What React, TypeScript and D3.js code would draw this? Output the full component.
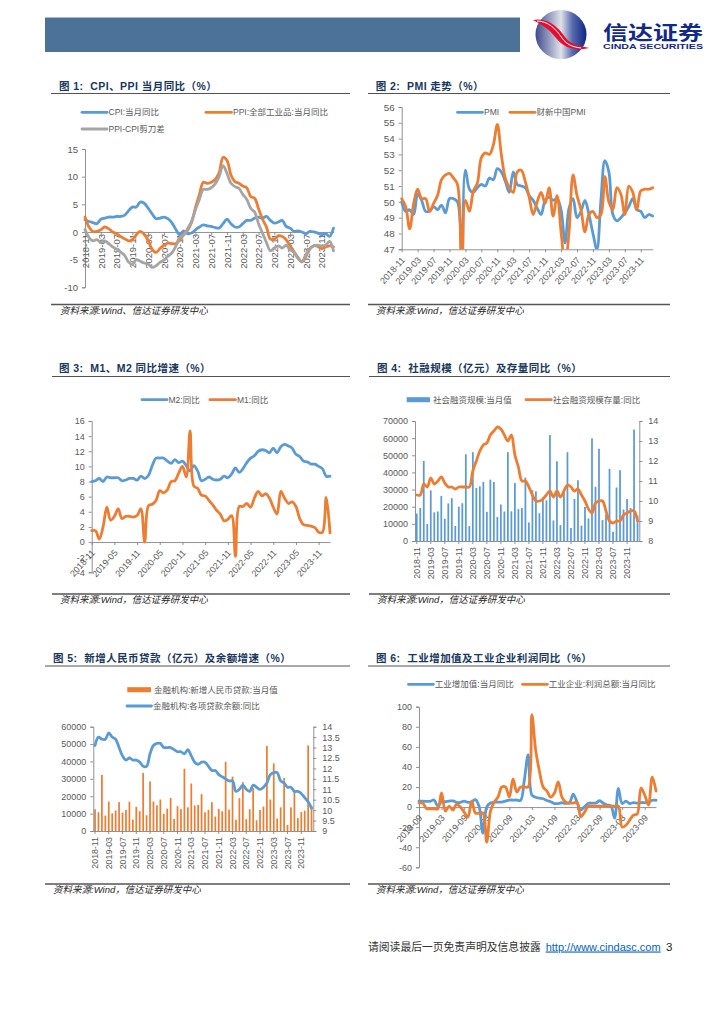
// App.tsx
import React, { useEffect, useRef } from 'react';
import * as d3 from 'd3';

const months = [
  '2018-11', '2018-12', '2019-01', '2019-02', '2019-03', '2019-04', '2019-05', '2019-06', '2019-07', '2019-08', '2019-09', '2019-10', '2019-11', '2019-12',
  '2020-01', '2020-02', '2020-03', '2020-04', '2020-05', '2020-06', '2020-07', '2020-08', '2020-09', '2020-10', '2020-11', '2020-12',
  '2021-01', '2021-02', '2021-03', '2021-04', '2021-05', '2021-06', '2021-07', '2021-08', '2021-09', '2021-10', '2021-11', '2021-12',
  '2022-01', '2022-02', '2022-03', '2022-04', '2022-05', '2022-06', '2022-07', '2022-08', '2022-09', '2022-10', '2022-11', '2022-12',
  '2023-01', '2023-02', '2023-03', '2023-04', '2023-05', '2023-06', '2023-07', '2023-08', '2023-09', '2023-10', '2023-11', '2023-12',
  '2024-01', '2024-02',
];
const monthsFig6 = [
  '2018-09', '2018-10', '2018-11', '2018-12', '2019-01', '2019-02', '2019-03', '2019-04', '2019-05', '2019-06', '2019-07', '2019-08', '2019-09', '2019-10', '2019-11', '2019-12',
  '2020-01', '2020-02', '2020-03', '2020-04', '2020-05', '2020-06', '2020-07', '2020-08', '2020-09', '2020-10', '2020-11', '2020-12',
  '2021-01', '2021-02', '2021-03', '2021-04', '2021-05', '2021-06', '2021-07', '2021-08', '2021-09', '2021-10', '2021-11', '2021-12',
  '2022-01', '2022-02', '2022-03', '2022-04', '2022-05', '2022-06', '2022-07', '2022-08', '2022-09', '2022-10', '2022-11', '2022-12',
  '2023-01', '2023-02', '2023-03', '2023-04', '2023-05', '2023-06', '2023-07', '2023-08', '2023-09', '2023-10', '2023-11', '2023-12',
];

const ticks4 = ['2018-11', '2019-03', '2019-07', '2019-11', '2020-03', '2020-07', '2020-11', '2021-03', '2021-07', '2021-11', '2022-03', '2022-07', '2022-11', '2023-03', '2023-07', '2023-11'];
const ticks6 = ['2018-11', '2019-05', '2019-11', '2020-05', '2020-11', '2021-05', '2021-11', '2022-05', '2022-11', '2023-05', '2023-11'];
const ticksFig6 = ['2018-09', '2019-03', '2019-09', '2020-03', '2020-09', '2021-03', '2021-09', '2022-03', '2022-09', '2023-03', '2023-09'];

const cpi = [2.2, 1.9, 1.7, 1.5, 2.3, 2.5, 2.7, 2.7, 2.8, 2.8, 3.0, 3.8, 4.5, 4.5, 5.4, 5.2, 4.3, 3.3, 2.4, 2.5, 2.7, 2.4, 1.7, 0.5, -0.5, 0.2, -0.3, -0.2, 0.4, 0.9, 1.3, 1.1, 1.0, 0.8, 0.7, 1.5, 2.3, 1.5, 0.9, 0.9, 1.5, 2.1, 2.1, 2.5, 2.7, 2.5, 2.8, 2.1, 1.6, 1.8, 2.1, 1.0, 0.7, 0.1, 0.2, 0, -0.3, 0.1, 0, -0.2, -0.5, -0.3, -0.8, 0.7];
const ppi = [2.7, 0.9, 0.1, 0.1, 0.4, 0.9, 0.6, 0, -0.3, -0.8, -1.2, -1.6, -1.4, -0.5, 0.1, -0.4, -1.5, -3.1, -3.7, -3.0, -2.4, -2.0, -2.1, -2.1, -1.5, -0.4, 0.3, 1.7, 4.4, 6.8, 9.0, 8.8, 9.0, 9.5, 10.7, 13.5, 12.9, 10.3, 9.1, 8.8, 8.3, 8.0, 6.4, 6.1, 4.2, 2.3, 0.9, -1.3, -1.3, -0.7, -0.8, -1.4, -2.5, -3.6, -4.6, -5.4, -4.4, -3.0, -2.5, -2.6, -3.0, -2.7, -2.5, -2.7];
const scissors = [0.5, -1.0, -1.6, -1.4, -1.9, -1.6, -2.1, -2.7, -3.1, -3.6, -4.2, -5.4, -5.9, -5.0, -5.3, -5.6, -5.8, -6.4, -6.1, -5.5, -5.1, -4.4, -3.8, -2.6, -1.0, -0.6, 0.6, 1.9, 4.0, 5.9, 7.7, 7.7, 8.0, 8.7, 10.0, 12.0, 10.6, 8.8, 8.2, 7.9, 6.8, 5.9, 4.3, 3.6, 1.5, -0.2, -1.9, -3.4, -2.9, -2.5, -2.9, -2.4, -3.2, -3.7, -4.8, -5.4, -4.1, -3.1, -2.5, -2.4, -2.5, -2.4, -1.7, -3.4];

const pmi = [50.0, 49.4, 49.5, 49.2, 50.5, 50.1, 49.4, 49.4, 49.7, 49.5, 49.8, 49.3, 50.2, 50.2, 50.0, 35.7, 52.0, 50.8, 50.6, 50.9, 51.1, 51.0, 51.5, 51.4, 52.1, 51.9, 51.3, 50.6, 51.9, 51.1, 51.0, 50.9, 50.4, 50.1, 49.6, 49.2, 50.1, 50.3, 50.1, 50.2, 49.5, 47.4, 49.6, 50.2, 49.0, 49.4, 50.1, 49.2, 48.0, 47.0, 50.1, 52.6, 51.9, 49.2, 48.8, 49.0, 49.3, 49.7, 50.2, 49.5, 49.4, 49.0, 49.2, 49.1];
const caixinPmi = [50.2, 49.7, 48.3, 49.9, 50.8, 50.2, 50.2, 49.4, 49.9, 50.4, 51.4, 51.7, 51.8, 51.5, 51.1, 40.3, 50.1, 49.4, 50.7, 51.2, 52.8, 53.1, 53.0, 53.6, 54.9, 53.0, 51.5, 50.9, 50.6, 51.9, 52.0, 51.3, 50.3, 49.2, 50.0, 50.6, 49.9, 50.9, 49.1, 50.4, 48.1, 46.0, 48.1, 51.7, 50.4, 49.5, 48.1, 49.2, 49.4, 49.0, 49.2, 51.6, 50.0, 49.5, 50.9, 50.5, 49.2, 51.0, 50.6, 49.5, 50.7, 50.8, 50.8, 50.9];

const m2 = [8.0, 8.1, 8.4, 8.0, 8.6, 8.5, 8.5, 8.5, 8.1, 8.2, 8.4, 8.4, 8.2, 8.7, 8.4, 8.8, 10.1, 11.1, 11.1, 11.1, 10.7, 10.4, 10.9, 10.5, 10.7, 10.1, 9.4, 10.1, 9.4, 8.1, 8.3, 8.6, 8.3, 8.2, 8.3, 8.7, 8.5, 9.0, 9.8, 9.2, 9.7, 10.5, 11.1, 11.4, 12.0, 12.2, 12.1, 11.8, 12.4, 11.8, 12.6, 12.9, 12.7, 12.4, 11.6, 11.3, 10.7, 10.6, 10.3, 10.3, 10.0, 9.7, 8.7, 8.7];
const m1 = [1.5, 1.5, 0.4, 2.0, 4.6, 2.9, 3.4, 4.4, 3.1, 3.4, 3.4, 3.3, 3.5, 4.4, 0.0, 4.8, 5.0, 5.5, 6.8, 6.5, 6.9, 8.0, 8.1, 9.1, 10.0, 8.6, 14.7, 7.4, 7.1, 6.2, 6.1, 5.5, 4.9, 4.2, 3.7, 2.8, 3.0, 3.5, -1.9, 4.7, 4.7, 5.1, 4.6, 5.8, 6.7, 6.1, 6.4, 5.8, 4.6, 3.7, 6.7, 5.8, 5.1, 5.3, 4.7, 3.1, 2.3, 2.2, 2.1, 1.9, 1.3, 1.3, 5.9, 1.2];

const tsfFlow = [16000, 19300, 46700, 9900, 29500, 16700, 17200, 26300, 13000, 21900, 25000, 8800, 20000, 22000, 50600, 8700, 51800, 30900, 31900, 34500, 17000, 35800, 34500, 14000, 21300, 17200, 51800, 17300, 33800, 18600, 19200, 37000, 10800, 29600, 29000, 16200, 25700, 23700, 61800, 12000, 46500, 9300, 28400, 51800, 7600, 24500, 35400, 9000, 19900, 13100, 59900, 31600, 53800, 12200, 15600, 42100, 5400, 31200, 41300, 18400, 24500, 19300, 65000, 14900];
const tsfStock = [10.3, 10.3, 10.85, 10.7, 11.15, 10.85, 11.0, 11.2, 10.9, 10.7, 10.7, 10.6, 10.7, 10.7, 10.7, 10.7, 11.5, 12.0, 12.5, 12.8, 12.9, 13.3, 13.5, 13.7, 13.6, 13.3, 13.0, 13.3, 12.3, 11.7, 11.0, 11.0, 10.7, 10.3, 10.0, 10.0, 10.1, 10.3, 10.5, 10.2, 10.5, 10.2, 10.5, 10.8, 10.7, 10.5, 10.6, 10.3, 10.0, 9.6, 9.4, 9.9, 10.0, 10.0, 9.5, 9.0, 8.9, 9.0, 9.0, 9.3, 9.4, 9.5, 9.5, 9.0];

const newLoans = [12500, 10800, 32300, 8900, 16900, 10200, 11800, 16600, 10600, 12100, 16900, 6600, 13900, 11400, 33400, 9057, 28500, 17000, 14800, 18100, 9900, 12800, 19000, 6900, 14300, 12600, 35800, 13600, 27300, 14700, 15000, 21200, 10800, 12200, 16600, 8300, 12700, 11300, 39800, 12300, 31300, 6500, 18900, 28100, 6800, 12500, 24700, 6200, 12100, 14000, 49000, 18100, 38900, 7200, 13600, 30500, 3500, 13600, 23100, 7400, 10900, 11700, 49200, 14500];
const loanGrowth = [13.1, 13.5, 13.4, 13.4, 13.7, 13.5, 13.4, 13.0, 12.6, 12.4, 12.5, 12.4, 12.4, 12.3, 12.1, 12.1, 12.7, 13.1, 13.2, 13.2, 13.0, 13.0, 13.0, 12.9, 12.8, 12.8, 12.7, 12.9, 12.6, 12.3, 12.2, 12.3, 12.3, 12.1, 11.9, 11.9, 11.7, 11.6, 11.5, 11.4, 11.4, 10.9, 11.0, 11.2, 11.0, 10.9, 11.2, 11.1, 11.0, 11.1, 11.3, 11.7, 11.8, 11.8, 11.4, 11.3, 11.1, 11.1, 10.9, 10.9, 10.8, 10.6, 10.4, 10.1];

const industryAdded = [5.8, 5.9, 5.6, 5.8, 7, 1, 5.3, 5.3, 6, 6.2, 4.7, 4.7, 6, 4.7, 5.3, 7.5, 0.3, -26, 0, 4, 5, 5, 5, 6, 7, 7, 7, 6.6, 27, 52, 12, 9.8, 8.8, 8.3, 6.5, 5.3, 3.5, 3.5, 4.3, 3.8, 4.3, 13, 5, -3, 0.3, 3.8, 4, 4, 6.3, 3.8, 2, 1.3, -11, 18.5, 3.5, 6, 3.5, 4.5, 4, 4.5, 4.5, 4.5, 6.8, 6.8];
const industryProfit = [4, 4, -1.5, -1.8, -1.8, -1.8, 14, -4, 1, -3, 3, 0, -5, -10, 6, -6, -6, -6, -35, -4, 5, 10, 20, 20, 10, 28, 15, 20, 20, 20, 92, 57, 36, 20, 16, 10, 14, 25, 10, 5, 4, 4, 4.5, -9.5, -5, 1, 1, 1, 1, 1, 1, 1, 1, 1, -20, -18, -13, -8, -7, 19, 12, 2, 30, 16];

const ticksFig1 = [-10, -5, 0, 5, 10, 15];
const ticksFig2 = [47, 48, 49, 50, 51, 52, 53, 54, 55, 56];
const ticksFig3 = [-4, -2, 0, 2, 4, 6, 8, 10, 12, 14, 16];
const ticksFig4 = [0, 10000, 20000, 30000, 40000, 50000, 60000, 70000];
const ticksFig4Right = [8, 9, 10, 11, 12, 13, 14];
const ticksFig5 = [0, 10000, 20000, 30000, 40000, 50000, 60000];
const ticksFig5Right = [9, 9.5, 10, 10.5, 11, 11.5, 12, 12.5, 13, 13.5, 14];
const ticksFig6Y = [-60, -40, -20, 0, 20, 40, 60, 80, 100];

const BLUE = '#5b9bd5';
const ORANGE = '#ed7d31';
const GREY = '#a5a5a5';
const AXIS = '#868686';
const LABEL = '#595959';
const FONT = '"Liberation Sans","Noto Sans CJK SC",sans-serif';
const SOURCE = '资料来源:Wind，信达证券研发中心';

type Sel = d3.Selection<any, unknown, null, undefined>;

const styleAxis = (a: Sel, size: number) => {
  a.attr('font-family', FONT).attr('font-size', size);
  a.selectAll('path,line').attr('stroke', AXIS).attr('stroke-width', 0.9);
  a.selectAll('text').attr('fill', LABEL);
};

const yLeft = (svg: Sel, y: any, x: number, vals: number[], size: number) => {
  const a = svg.append('g').attr('transform', `translate(${x},0)`)
    .call(d3.axisLeft(y).tickValues(vals).tickSize(3).tickPadding(4).tickFormat((d: any) => String(d)) as any);
  styleAxis(a, size);
};

const yRight = (svg: Sel, y: any, x: number, vals: number[], size: number) => {
  const a = svg.append('g').attr('transform', `translate(${x},0)`)
    .call(d3.axisRight(y).tickValues(vals).tickSize(3).tickPadding(6).tickFormat((d: any) => String(d)) as any);
  styleAxis(a, size);
};

// gap is how far below the axis the end of the label sits
const xBottom = (svg: Sel, x: any, yPos: number, vals: string[], rotate: number, size: number, gap: number) => {
  const a = svg.append('g').attr('transform', `translate(0,${yPos})`)
    .call(d3.axisBottom(x).tickValues(vals).tickSize(3).tickSizeOuter(0) as any);
  styleAxis(a, size);
  a.selectAll('text')
    .attr('text-anchor', 'end')
    .attr('x', 0)
    .attr('y', 0)
    .attr('dy', '0.35em')
    .attr('transform', rotate === -90 ? `translate(0,${gap}) rotate(-90)` : `translate(1,${gap}) rotate(-48)`);
};

const drawLine = (svg: Sel, x: any, y: any, cats: string[], values: number[], color: string, clip?: string) => {
  const line = d3.line<number>()
    .x((_, i) => x(cats[i]) + (x.bandwidth ? x.bandwidth() / 2 : 0))
    .y(d => y(d))
    .curve(d3.curveCatmullRom.alpha(0.5));
  const p = svg.append('path')
    .attr('d', line(values))
    .attr('fill', 'none')
    .attr('stroke', color)
    .attr('stroke-width', 2.8)
    .attr('stroke-linejoin', 'round')
    .attr('stroke-linecap', 'round');
  if (clip) p.attr('clip-path', `url(#${clip})`);
};

const drawBars = (svg: Sel, x: any, y: any, cats: string[], values: number[], color: string) => {
  svg.append('g').selectAll('rect').data(values).enter().append('rect')
    .attr('x', (_, i) => x(cats[i]))
    .attr('width', x.bandwidth())
    .attr('y', d => y(d))
    .attr('height', d => y(0) - y(d))
    .attr('fill', color);
};

const legendLine = (svg: Sel, x1: number, x2: number, yPos: number, color: string, label: string) => {
  svg.append('line').attr('x1', x1).attr('x2', x2).attr('y1', yPos).attr('y2', yPos)
    .attr('stroke', color).attr('stroke-width', 2.8).attr('stroke-linecap', 'round');
  svg.append('text').attr('x', x2 + 1.5).attr('y', yPos + 3).attr('font-family', FONT).attr('font-size', 8.5)
    .attr('fill', LABEL).text(label);
};

const legendBar = (svg: Sel, x1: number, x2: number, yPos: number, color: string, label: string) => {
  svg.append('rect').attr('x', x1).attr('width', x2 - x1).attr('y', yPos - 2.5).attr('height', 5).attr('fill', color);
  svg.append('text').attr('x', x2 + 3).attr('y', yPos + 3).attr('font-family', FONT).attr('font-size', 8.5)
    .attr('fill', LABEL).text(label);
};

// title, both rules and the source line round one figure
const frame = (svg: Sel, title: string, titleX: number, titleY: number, x1: number, x2: number, ruleTop: number, ruleBottom: number, srcX: number, srcY: number, src: string) => {
  svg.append('text').attr('x', titleX).attr('y', titleY).attr('font-family', FONT).attr('font-size', 10.5)
    .attr('font-weight', 700).attr('fill', '#17375e').attr('letter-spacing', 0.45).style('white-space', 'pre').text(title);
  svg.append('line').attr('x1', x1).attr('x2', x2).attr('y1', ruleTop).attr('y2', ruleTop).attr('stroke', '#404040').attr('stroke-width', 0.9);
  svg.append('line').attr('x1', x1).attr('x2', x2).attr('y1', ruleBottom).attr('y2', ruleBottom).attr('stroke', '#555').attr('stroke-width', 1.3);
  svg.append('text').attr('x', srcX).attr('y', srcY).attr('font-family', FONT).attr('font-size', 9.5)
    .attr('font-style', 'italic').attr('fill', '#262626').text(src);
};

const App: React.FC = () => {
  const ref = useRef<SVGSVGElement | null>(null);

  useEffect(() => {
    const root = d3.select(ref.current) as unknown as Sel;
    root.select('#charts').remove();
    const svg = root.append('g').attr('id', 'charts') as Sel;

    // fig 1
    frame(svg, '图 1:  CPI、PPI 当月同比（%）', 59, 90, 51, 350, 93.5, 304.5, 60, 314, '资料来源:Wind、信达证券研发中心');
    legendLine(svg, 82, 107, 112.3, BLUE, 'CPI:当月同比');
    legendLine(svg, 206, 231.5, 112.3, ORANGE, 'PPI:全部工业品:当月同比');
    legendLine(svg, 82, 107, 129, GREY, 'PPI-CPI剪刀差');
    const x1 = d3.scalePoint<string>().domain(months).range([85, 333.5]);
    const y1 = d3.scaleLinear().domain([-10, 15]).range([287.3, 149]);
    yLeft(svg, y1, 85, ticksFig1, 9.5);
    xBottom(svg, x1, y1(0), ticks4, -90, 9.5, 2);
    drawLine(svg, x1, y1, months, cpi, BLUE);
    drawLine(svg, x1, y1, months, ppi, ORANGE);
    drawLine(svg, x1, y1, months, scissors, GREY);

    // fig 2
    frame(svg, '图 2:  PMI 走势（%）', 375.7, 90, 368, 670, 93.5, 304.5, 376, 314, SOURCE);
    const x2 = d3.scalePoint<string>().domain(months).range([401.7, 652.7]);
    const y2 = d3.scaleLinear().domain([47, 56]).range([249.3, 107]);
    svg.append('clipPath').attr('id', 'clip2').append('rect').attr('x', 400).attr('y', 100).attr('width', 260).attr('height', 149.3);
    yLeft(svg, y2, 401.7, ticksFig2, 9.8);
    xBottom(svg, x2, y2(47), ticks4, -45, 9, 9);
    legendLine(svg, 457.5, 482.5, 112.3, BLUE, 'PMI');
    legendLine(svg, 510, 535, 112.3, ORANGE, '财新中国PMI');
    drawLine(svg, x2, y2, months, pmi, BLUE, 'clip2');
    drawLine(svg, x2, y2, months, caixinPmi, ORANGE, 'clip2');

    // fig 3
    frame(svg, '图 3:  M1、M2 同比增速（%）', 59, 372, 52, 350, 376.5, 594, 60, 603, SOURCE);
    legendLine(svg, 142, 167, 399.7, BLUE, 'M2:同比');
    legendLine(svg, 210, 235.5, 399.7, ORANGE, 'M1:同比');
    const x3 = d3.scalePoint<string>().domain(months).range([91.7, 330]);
    const y3 = d3.scaleLinear().domain([-4, 16]).range([572.3, 421]);
    yLeft(svg, y3, 91.7, ticksFig3, 9);
    xBottom(svg, x3, y3(0), ticks6, -45, 9, 9);
    drawLine(svg, x3, y3, months, m2, BLUE);
    drawLine(svg, x3, y3, months, m1, ORANGE);

    // fig 4
    frame(svg, '图 4:  社融规模（亿元）及存量同比（%）', 377, 372, 369, 670, 376.5, 594, 377, 603, SOURCE);
    legendBar(svg, 406.7, 430, 399.7, BLUE, '社会融资规模:当月值');
    legendLine(svg, 526, 551.3, 399.7, ORANGE, '社会融资规模存量:同比');
    const x4 = d3.scaleBand<string>().domain(months).range([415, 639.3]).paddingInner(0.5).paddingOuter(0.25);
    const y4 = d3.scaleLinear().domain([0, 70000]).range([541, 421]);
    const y4r = d3.scaleLinear().domain([8, 14]).range([541, 421]);
    drawBars(svg, x4, y4, months, tsfFlow, BLUE);
    yLeft(svg, y4, 415, ticksFig4, 9);
    yRight(svg, y4r, 639.3, ticksFig4Right, 9);
    xBottom(svg, x4, 541, ticks4, -90, 8.8, 6);
    drawLine(svg, x4, y4r, months, tsfStock, ORANGE);

    // fig 5
    frame(svg, '图 5:  新增人民币贷款（亿元）及余额增速（%）', 53, 662, 45, 350, 666, 884, 53, 893, SOURCE);
    legendBar(svg, 127.3, 151, 689.7, ORANGE, '金融机构:新增人民币贷款:当月值');
    legendLine(svg, 127, 151.5, 706, BLUE, '金融机构:各项贷款余额:同比');
    const x5 = d3.scaleBand<string>().domain(months).range([93.3, 313.3]).paddingInner(0.5).paddingOuter(0.25);
    const y5 = d3.scaleLinear().domain([0, 60000]).range([831, 726.7]);
    const y5r = d3.scaleLinear().domain([9, 14]).range([831, 726.7]);
    drawBars(svg, x5, y5, months, newLoans, ORANGE);
    yLeft(svg, y5, 93.3, ticksFig5, 9);
    yRight(svg, y5r, 313.3, ticksFig5Right, 9);
    xBottom(svg, x5, 831, ticks4, -90, 8.8, 6);
    drawLine(svg, x5, y5r, months, loanGrowth, BLUE);

    // fig 6
    frame(svg, '图 6:  工业增加值及工业企业利润同比（%）', 376, 662, 368, 670, 666, 884, 376, 893, SOURCE);
    legendLine(svg, 408.5, 433.3, 684.3, BLUE, '工业增加值:当月同比');
    legendLine(svg, 522.5, 547.3, 684.3, ORANGE, '工业企业:利润总额:当月同比');
    const x6 = d3.scalePoint<string>().domain(monthsFig6).range([419, 656]);
    const y6 = d3.scaleLinear().domain([-60, 100]).range([867.3, 706.7]);
    yLeft(svg, y6, 419, ticksFig6Y, 9);
    xBottom(svg, x6, y6(0), ticksFig6, -45, 9, 9);
    drawLine(svg, x6, y6, monthsFig6, industryAdded, BLUE);
    drawLine(svg, x6, y6, monthsFig6, industryProfit, ORANGE);
  }, []);

  return (
    <svg ref={ref} width={724} height={1024} style={{ position: 'absolute', left: 0, top: 0, background: '#fff' }}>
      <defs>
        <linearGradient id="logoBall" x1="0" y1="0" x2="1" y2="0">
          <stop offset="0" stopColor="#3f4a8e" />
          <stop offset="0.5" stopColor="#dfe2ea" />
          <stop offset="0.72" stopColor="#5a6cae" />
          <stop offset="1" stopColor="#0a2585" />
        </linearGradient>
      </defs>
      <rect x={45} y={17.5} width={475} height={34.5} fill="#4d7299" />
      <ellipse cx={561} cy={34.5} rx={25.5} ry={24.5} fill="url(#logoBall)" />
      <path d="M533 20 C548 17 558 27 565 37 C571 45 578 45 589 48 C576 51 565 49 556 38 C550 30 543 25 533 20 Z" fill="#e60d2e" />
      <path d="M537 21 C548 21 556 29 562 38 C567 45 573 47 581 48" fill="none" stroke="#fff" strokeWidth={1} />
      <text x={603} y={40} fontFamily={FONT} fontSize={19} fontWeight={700} fill="#12298a" textLength={100} lengthAdjust="spacingAndGlyphs">信达证券</text>
      <text x={603} y={49} fontFamily={FONT} fontSize={7.6} fontWeight={700} fill="#12298a" textLength={100} lengthAdjust="spacingAndGlyphs">CINDA SECURITIES</text>
      <text x={368} y={950.5} fontFamily={FONT} fontSize={10.8} fill="#333">请阅读最后一页免责声明及信息披露</text>
      <text x={545.7} y={950.5} fontFamily={FONT} fontSize={11} fill="#0563c1" textDecoration="underline">http://www.cindasc.com</text>
      <text x={666} y={950.5} fontFamily={FONT} fontSize={11.5} fill="#222">3</text>
    </svg>
  );
};

export default App;
